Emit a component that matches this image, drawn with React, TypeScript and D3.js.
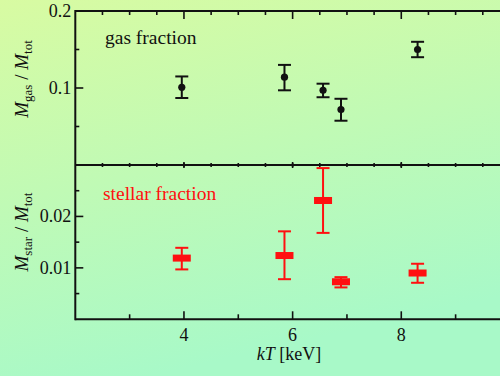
import React from 'react';
import * as d3 from 'd3';

// kT [keV] for each cluster
const temps = [3.96, 5.85, 6.56, 6.89, 8.3];

// gas fraction: value, upper, lower
const gasFrac = [0.101, 0.114, 0.097, 0.072, 0.150];
const gasHi = [0.115, 0.130, 0.1056, 0.086, 0.160];
const gasLo = [0.087, 0.097, 0.088, 0.0575, 0.140];

// stellar fraction: value, upper, lower
const starFrac = [0.0119, 0.0124, 0.0231, 0.0073, 0.0090];
const starHi = [0.0139, 0.0171, 0.0294, 0.0082, 0.0108];
const starLo = [0.0097, 0.0078, 0.0168, 0.0062, 0.0071];

const gasTicks = [0.1, 0.2];
const gasMinor = [0.05, 0.15];
const starTicks = [0.01, 0.02];
const starMinor = [0.005, 0.015, 0.025];
const xTicks = [4, 6, 8];
const xOdd = [3, 5, 7, 9];

const width = 500;
const height = 376;
const left = 75.3;
const top = 11;
const mid = 165;
const bottom = 319.3;
const ink = '#111';
const red = '#ff1010';
const serif = { fontFamily: 'Liberation Serif' };

const x = d3.scaleLinear().domain([2, 10]).range([left, left + 8 * 54.33]);
const yTop = d3.scaleLinear().domain([0, 0.2]).range([mid, top]);
const yBot = d3.scaleLinear().domain([0, 0.03]).range([bottom, mid]);
const halfSteps = d3.range(2.5, 10, 0.5);

const ErrBar = ({ cx, y0, y1, color }) => (
  <g stroke={color} strokeWidth={2}>
    <line x1={cx} x2={cx} y1={y0} y2={y1} />
    <line x1={cx - 6.5} x2={cx + 6.5} y1={y0} y2={y0} />
    <line x1={cx - 6.5} x2={cx + 6.5} y1={y1} y2={y1} />
  </g>
);

const YLabel = ({ cy, sub }) => (
  <text transform={`translate(28,${cy}) rotate(-90)`} textAnchor="middle" fill={ink}
    style={{ ...serif, fontSize: 19 }}>
    <tspan fontStyle="italic">M</tspan>
    <tspan fontSize={13} dy={4}>{sub}</tspan>
    <tspan dy={-4}>{' / '}</tspan>
    <tspan fontStyle="italic">M</tspan>
    <tspan fontSize={13} dy={4}>tot</tspan>
  </text>
);

const App = () => {
  const fmt1 = d3.format('.1f');
  const fmt2 = d3.format('.2f');
  return (
    <svg width={width} height={height} style={{ position: 'absolute', left: 0, top: 0 }}>
      <defs>
        <linearGradient id="bg" x1={0} y1={0} x2={0.3} y2={1}>
          <stop offset={0} stopColor="#d8fba2" />
          <stop offset={1} stopColor="#a8f9c8" />
        </linearGradient>
      </defs>
      <rect width={width} height={height} fill="url(#bg)" />

      {/* frame */}
      <g stroke={ink} strokeWidth={2}>
        {[top, mid, bottom].map(yy => (
          <line key={yy} x1={left} x2={width + 5} y1={yy} y2={yy} />
        ))}
        <line x1={left} x2={left} y1={top - 1} y2={bottom + 1} />
      </g>

      {/* x ticks */}
      <g stroke={ink} strokeWidth={1.6}>
        {halfSteps.filter(v => v % 2 !== 0).map(v => (
          <line key={'t' + v} x1={x(v)} x2={x(v)} y1={top} y2={top + 4} />
        ))}
        {xTicks.map(v => (
          <line key={'T' + v} x1={x(v)} x2={x(v)} y1={top} y2={top + 8} />
        ))}
        {halfSteps.map(v => (
          <line key={'m' + v} x1={x(v)} x2={x(v)} y1={mid - 2} y2={mid + 2} />
        ))}
        {xTicks.map(v => (
          <line key={'M' + v} x1={x(v)} x2={x(v)} y1={mid - 3} y2={mid + 3} />
        ))}
        {xOdd.map(v => (
          <line key={'b' + v} x1={x(v)} x2={x(v)} y1={bottom} y2={bottom - 5} />
        ))}
        {xTicks.map(v => (
          <line key={'B' + v} x1={x(v)} x2={x(v)} y1={bottom} y2={bottom - 8} />
        ))}
        {gasMinor.map(v => (
          <line key={'g' + v} x1={left} x2={left + 4} y1={yTop(v)} y2={yTop(v)} />
        ))}
        {gasTicks.map(v => (
          <line key={'G' + v} x1={left} x2={left + 8} y1={yTop(v)} y2={yTop(v)} />
        ))}
        {starMinor.map(v => (
          <line key={'s' + v} x1={left} x2={left + 4} y1={yBot(v)} y2={yBot(v)} />
        ))}
        {starTicks.map(v => (
          <line key={'S' + v} x1={left} x2={left + 8} y1={yBot(v)} y2={yBot(v)} />
        ))}
      </g>

      {/* tick labels */}
      <g fill={ink} style={{ ...serif, fontSize: 18 }}>
        {xTicks.map(v => (
          <text key={v} x={x(v)} y={bottom + 22} textAnchor="middle">{v}</text>
        ))}
        {gasTicks.map(v => (
          <text key={v} x={left - 4} y={yTop(v)} dy="0.32em" textAnchor="end">{fmt1(v)}</text>
        ))}
        {starTicks.map(v => (
          <text key={v} x={left - 4} y={yBot(v)} dy="0.32em" textAnchor="end">{fmt2(v)}</text>
        ))}
      </g>

      {/* gas fraction */}
      {temps.map((t, i) => (
        <g key={'gas' + i}>
          <ErrBar cx={x(t)} y0={yTop(gasHi[i])} y1={yTop(gasLo[i])} color={ink} />
          <circle cx={x(t)} cy={yTop(gasFrac[i])} r={3.6} fill={ink} />
        </g>
      ))}

      {/* stellar fraction */}
      {temps.map((t, i) => (
        <g key={'star' + i}>
          <ErrBar cx={x(t)} y0={yBot(starHi[i])} y1={yBot(starLo[i])} color={red} />
          <rect x={x(t) - 9} y={yBot(starFrac[i]) - 3.5} width={18} height={7} fill={red} />
        </g>
      ))}

      <text x={105} y={44} fill={ink} style={{ ...serif, fontSize: 19.5 }}>gas fraction</text>
      <text x={103} y={200} fill={red} style={{ ...serif, fontSize: 19.5 }}>stellar fraction</text>

      <text x={289} y={360} textAnchor="middle" fill={ink} style={{ ...serif, fontSize: 18 }}>
        <tspan fontStyle="italic">kT</tspan> [keV]
      </text>

      <YLabel cy={79} sub="gas" />
      <YLabel cy={232} sub="star" />
    </svg>
  );
};

export default App;
